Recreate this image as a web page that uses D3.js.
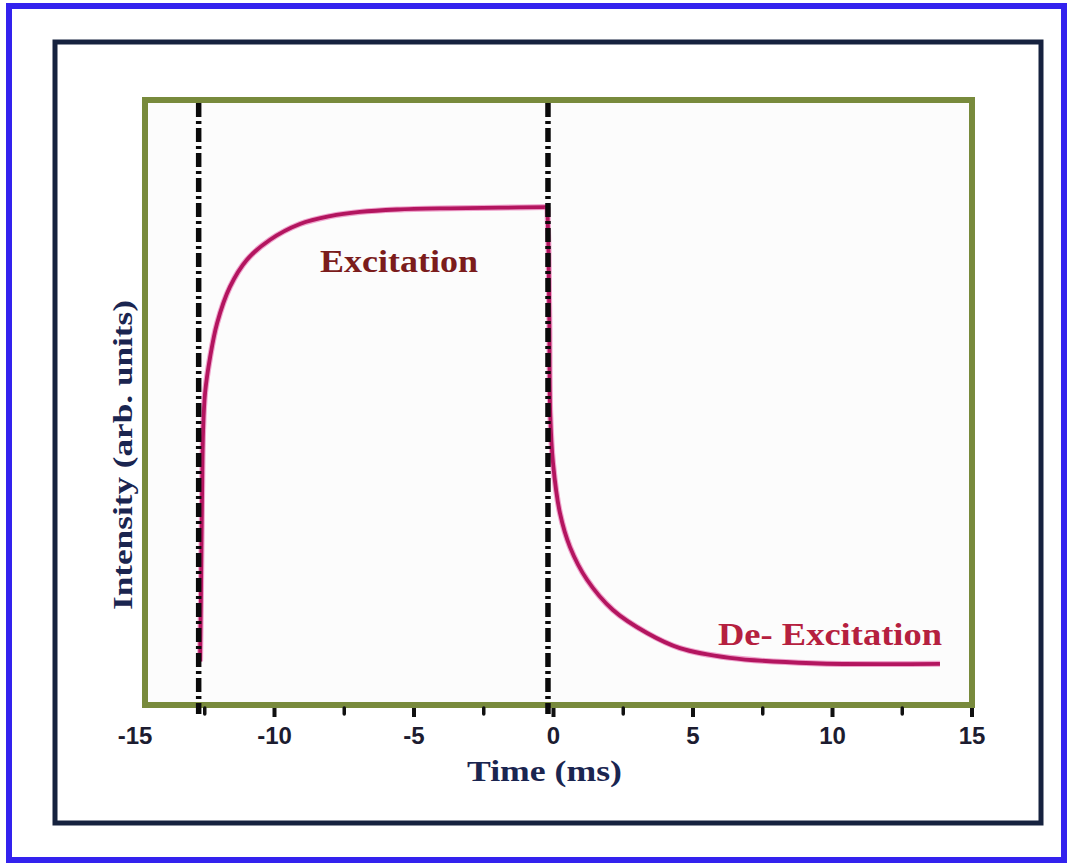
<!DOCTYPE html>
<html>
<head>
<meta charset="utf-8">
<script src="https://cdn.jsdelivr.net/npm/d3@7"></script>
<style>
  html, body { margin: 0; padding: 0; background: #ffffff; }
  svg { display: block; }
</style>
</head>
<body>
<svg id="chart" width="1070" height="863"></svg>
<script>
// ---- data ----
const xTicks = [-15, -10, -5, 0, 5, 10, 15];
const xMinorTicks = [-12.5, -7.5, -2.5, 2.5, 7.5, 12.5];
const xTickLabels = ["-15", "-10", "-5", "0", "5", "10", "15"];
const markerTimes = [-12.7, -0.18];

const excitationTime = [-12.65, -12.62, -12.58, -12.54, -12.47, -12.29, -12.04, -11.58, -10.97, -10.14, -9.07, -7.99, -6.92, -5.59, -3.69, -1.90, -0.20];
const excitationIntensity = [0.072, 0.174, 0.339, 0.455, 0.516, 0.575, 0.631, 0.691, 0.736, 0.769, 0.795, 0.808, 0.815, 0.819, 0.821, 0.822, 0.823];

const decayTime = [-0.20, -0.16, -0.13, -0.10, 0.0, 0.25, 0.61, 1.22, 2.15, 3.37, 4.55, 6.34, 9.32, 13.87];
const decayIntensity = [0.823, 0.750, 0.630, 0.483, 0.400, 0.317, 0.261, 0.207, 0.157, 0.119, 0.094, 0.078, 0.069, 0.068];

const xLabel = "Time (ms)";
const yLabel = "Intensity (arb. units)";
const label1 = "Excitation";
const label2 = "De- Excitation";

// ---- drawing ----
const svg = d3.select("#chart");

// outer blue border
svg.append("rect").attr("x", 9).attr("y", 6).attr("width", 1055).attr("height", 854)
  .attr("fill", "#ffffff").attr("stroke", "#3322ee").attr("stroke-width", 6);

// navy inner border
svg.append("rect").attr("x", 55).attr("y", 42).attr("width", 986).attr("height", 781)
  .attr("fill", "#ffffff").attr("stroke", "#16223f").attr("stroke-width", 5);

const frame = { left: 145, right: 972, top: 100, bottom: 705 };

const x = d3.scaleLinear().domain([-15, 15]).range([134.5, 971.5]);
const y = d3.scaleLinear().domain([0, 1]).range([frame.bottom, frame.top]);

// plot frame (olive)
svg.append("rect").attr("x", frame.left).attr("y", frame.top)
  .attr("width", frame.right - frame.left).attr("height", frame.bottom - frame.top)
  .attr("fill", "#fcfcfc").attr("stroke", "#788a3c").attr("stroke-width", 6);

// minor ticks
const minorAxis = d3.axisBottom(x).tickValues(xMinorTicks).tickSize(6).tickFormat("");
const gMinor = svg.append("g").attr("transform", `translate(0,${frame.bottom + 3})`).call(minorAxis);
gMinor.select(".domain").remove();
gMinor.selectAll(".tick line").attr("stroke", "#111").attr("stroke-width", 3.5).attr("stroke-linecap", "round");

// major ticks
const majorAxis = d3.axisBottom(x).tickValues(xTicks).tickSize(9).tickPadding(10)
  .tickFormat((d, i) => xTickLabels[i]);
const gMajor = svg.append("g").attr("transform", `translate(0,${frame.bottom + 3})`).call(majorAxis);
gMajor.select(".domain").remove();
gMajor.selectAll(".tick line").attr("stroke", "#111").attr("stroke-width", 4)
  .attr("opacity", d => d === -15 ? 0 : 1);
gMajor.selectAll(".tick text")
  .attr("font-family", "'Liberation Sans', Arial, sans-serif")
  .attr("font-weight", "bold").attr("font-size", 24).attr("fill", "#1c1c30")
  .attr("dy", "0.71em");

// curves
const line = d3.line().x(d => x(d[0])).y(d => y(d[1])).curve(d3.curveCatmullRom.alpha(0.5));
const excit = excitationTime.map((t, i) => [t, excitationIntensity[i]]);
const decay = decayTime.map((t, i) => [t, decayIntensity[i]]);

[excit, decay].forEach(pts => {
  svg.append("path").datum(pts).attr("d", line)
    .attr("fill", "none").attr("stroke", "#e45aa4").attr("stroke-width", 6).attr("opacity", 0.55);
  svg.append("path").datum(pts).attr("d", line)
    .attr("fill", "none").attr("stroke", "#b3155f").attr("stroke-width", 3.8);
});

// vertical dash-dot marker lines (on top of curve)
svg.selectAll(".marker").data(markerTimes).enter().append("line")
  .attr("x1", d => x(d)).attr("x2", d => x(d))
  .attr("y1", frame.top + 3).attr("y2", frame.bottom + 9)
  .attr("stroke", "#0a0a0a").attr("stroke-width", 5.5)
  .attr("stroke-dasharray", "14 4 3 4");

// labels
const serif = "'Liberation Serif', 'Times New Roman', serif";

svg.append("text").attr("x", 467).attr("y", 781).text(xLabel)
  .attr("font-family", serif).attr("font-weight", "bold").attr("font-size", 30)
  .attr("fill", "#1a2550").attr("textLength", 155).attr("lengthAdjust", "spacingAndGlyphs");

svg.append("text").attr("transform", "translate(132,610) rotate(-90)").text(yLabel)
  .attr("font-family", serif).attr("font-weight", "bold").attr("font-size", 28)
  .attr("fill", "#1a2550").attr("textLength", 310).attr("lengthAdjust", "spacingAndGlyphs");

svg.append("text").attr("x", 320).attr("y", 272).text(label1)
  .attr("font-family", serif).attr("font-weight", "bold").attr("font-size", 32)
  .attr("fill", "#7b1c1c").attr("textLength", 158).attr("lengthAdjust", "spacingAndGlyphs");

svg.append("text").attr("x", 718).attr("y", 645).text(label2)
  .attr("font-family", serif).attr("font-weight", "bold").attr("font-size", 31)
  .attr("fill", "#b5203f").attr("textLength", 224).attr("lengthAdjust", "spacingAndGlyphs");
</script>
</body>
</html>
